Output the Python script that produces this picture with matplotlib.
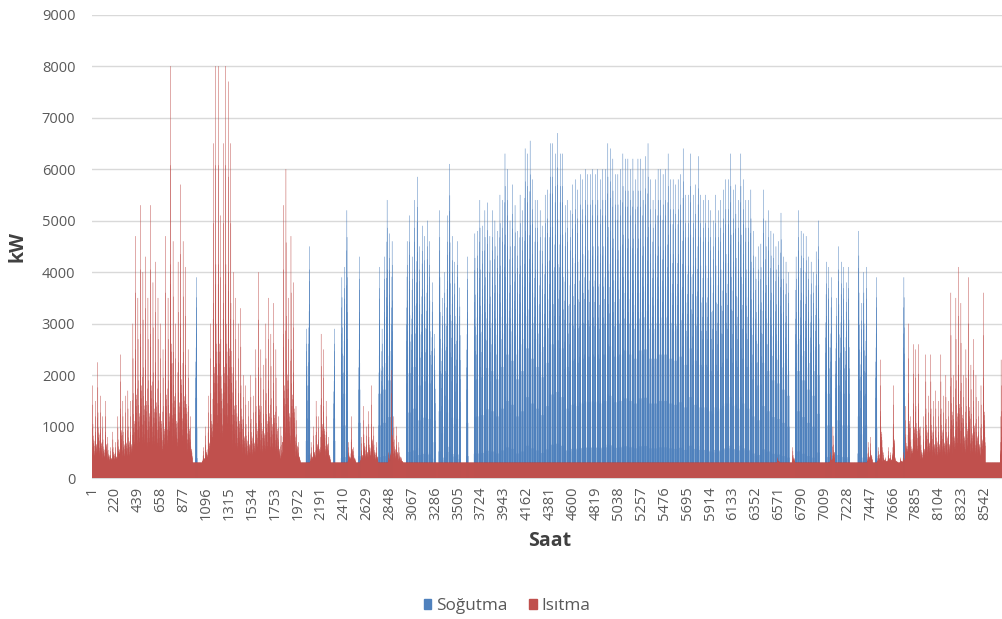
import numpy as np
import matplotlib
matplotlib.use("Agg")
import matplotlib.pyplot as plt
from matplotlib.patches import Patch

plt.rcParams['font.family'] = ['Open Sans', 'DejaVu Sans']

# ---------------- data ----------------
series_names = ["Soğutma", "Isıtma"]
colors = ["#4F81BD", "#C0504D"]

# daily peak heating load (kW), days 1..365
heating_daily_peak = (
    [1800, 1500, 2250, 1600, 1200, 1500, 800, 600, 900, 700,
     1200, 2400, 1500, 1600, 1700, 1500, 3000, 4700, 3500, 5300,
     4000, 4300, 3500, 5300, 3800, 4200, 3500, 3000, 2500, 4700,
     3500, 8000, 4600, 3000, 4200, 5700, 4600, 4100, 2500, 1200,
     300, 300, 300, 300, 600, 1000, 1600, 3000, 6500, 8000,
     8000, 5100, 6500, 8000, 7700, 6500, 4000, 3500, 3000, 3300,
     2000, 1800, 1500, 2000, 1600, 2500, 4000, 2500, 2200, 3000,
     3500, 2800, 3400, 2500, 1200, 1000, 5300, 6000, 3500, 4700,
     3800, 1400, 700, 300, 300, 300, 300, 700, 1000, 1500,
     1200, 2800, 2500, 1500, 800, 300, 300, 300, 300, 300,
     300, 300, 700, 1200, 600, 300, 300, 800, 1400, 1000,
     1300, 1800, 1000, 700, 300, 300, 300, 300, 500, 2100,
     1200, 1000, 700, 400, 300, 300, 300, 300, 300, 300]
    + [300] * 140
    + [300, 300, 300, 400, 300, 300, 300, 300, 300, 600,
       300, 300, 300, 300, 300, 300, 300, 300, 300, 300,
       300, 300, 300, 300, 500, 1000, 300, 300, 300, 300,
       300, 300, 300, 300, 300, 300, 300, 300, 300, 700,
       800, 300, 300, 600, 2300, 500, 400, 600, 500, 1800,
       400, 300, 400, 500, 1400, 3000, 1200, 2600, 2500, 2600,
       1000, 1200, 2400, 1600, 2400, 1500, 1700, 1500, 2400, 1600,
       2000, 1500, 3600, 2000, 3500, 4100, 3400, 2000, 2500, 3900,
       2200, 2700, 2000, 1500, 1800, 3600, 300, 300, 300, 300,
       300, 300, 2300, 1500, 1000]
)

# daily peak cooling load (kW), days 1..365
cooling_daily_peak = (
    [0] * 41 + [3900] + [0] * 43
    + [2900, 4500, 0, 0, 0, 0, 0, 0, 0, 0,
       0, 2900, 0, 0, 3900, 4100, 5200, 0, 0, 0,
       0, 4300, 0, 0, 0, 0, 0, 0, 0, 4100,
       2900, 4300, 5400, 4750, 4600, 0, 0, 0, 0, 0,
       4600, 5100, 4300, 5400, 5850,
       4500, 4900, 4700, 5000, 4600, 3800, 2800, 0, 5200, 3500,
       4000, 5100, 6100, 4700, 4200, 4600, 3700, 0, 0, 4300,
       0, 0, 4750, 4800, 5400, 4900, 5200, 5350, 4700, 5200,
       5000, 4800, 5500, 5400, 6300, 6000, 5000, 5700, 5300, 4800,
       5500, 5200, 6400, 6300, 6550, 5800, 5400, 5400, 5200, 4900,
       5500, 5600, 6500, 6500, 6300, 6700, 6300, 6300, 5300, 5400,
       5200, 5700, 5800, 5600, 5900, 5800, 6000, 5900, 5900, 6000,
       5900, 6000, 5800, 6000, 6000, 6500, 6400, 6200, 5900, 5900,
       6000, 6300, 6200, 6200, 6000, 6200, 5800, 6200, 6200, 6000,
       6250, 6500, 5800, 5400, 5800, 6000, 6000, 5900, 6000, 6300,
       5800, 5800, 5700, 5800, 5900, 6400, 5500, 5500, 6300, 5500,
       5700, 6250, 5500, 5400, 5500, 5400, 5200, 5000, 5500, 5200,
       5400, 5600, 5800, 5800, 6300, 5600, 5700, 5400, 6300, 5800,
       5400, 5400, 5600, 4800, 4300, 4500, 4550, 5600, 5000, 5200,
       4800, 4750, 4500, 4600, 5150, 4300, 4200, 4000, 0, 0,
       4300, 5200, 4800, 4750, 4700, 4300, 4200, 4000, 4400, 5000,
       0, 0, 4200, 4100, 3900, 0, 3500, 4500, 4200, 4100,
       3800, 4100, 0, 0, 0, 4800, 3400, 4000, 4100, 0,
       0, 0, 3900, 0, 0, 0, 0, 0, 0, 0,
       0, 0, 0, 3900]
    + [0] * 41
)

heating_base = 300  # kW, constant minimum heating load
# hourly shape within a day (share of the daily peak)
cooling_hour_share = [0, 0, 0, 0, 0, 0, 0.1, 0.25, 0.4, 0.5, 0.58, 0.65,
                      0.72, 0.85, 1.0, 0.9, 0.75, 0.62, 0.52, 0.4, 0.25, 0.1, 0, 0]
heating_hour_share = [0.08, 0.08, 0.08, 0.1, 0.12, 0.2, 0.45, 1.0, 0.75, 0.5, 0.35, 0.25,
                      0.2, 0.18, 0.15, 0.15, 0.18, 0.25, 0.3, 0.28, 0.22, 0.15, 0.12, 0.1]

tick_hours = list(range(1, 8761, 219))
tick_labels = [str(h) for h in tick_hours]

# ---------------- build hourly series ----------------
cool_peak = np.array(cooling_daily_peak, dtype=float)
heat_peak = np.array(heating_daily_peak, dtype=float)
cooling = (cool_peak[:, None] * np.array(cooling_hour_share)[None, :]).ravel()
heating = (heating_base + (heat_peak[:, None] - heating_base)
           * np.array(heating_hour_share)[None, :]).ravel()
hours = np.arange(1, len(cooling) + 1)

# ---------------- figure ----------------
fig = plt.figure(figsize=(10.03, 6.19), dpi=100)
ax = fig.add_axes([0.0917, 0.2273, 0.9131, 0.7491])

ax.bar(hours, cooling, width=1.0, color=colors[0], edgecolor=colors[0],
       linewidth=0.15, zorder=2, snap=False)
ax.bar(hours, heating, width=1.0, color=colors[1], edgecolor=colors[1],
       linewidth=0.15, zorder=3, snap=False)

ax.set_xlim(0.5, len(hours) + 0.5)
ax.set_ylim(0, 9000)
ax.set_yticks(range(0, 9001, 1000))
ax.set_xticks(tick_hours)
ax.set_xticklabels(tick_labels, rotation=90)
ax.tick_params(axis='both', length=0, labelsize=10.5, labelcolor='#595959')
ax.tick_params(axis='x', pad=6)
ax.tick_params(axis='y', pad=12)
ax.grid(axis='y', color='#D9D9D9', linewidth=1.0, zorder=0)
ax.set_axisbelow(True)
for s in ['top', 'right', 'left']:
    ax.spines[s].set_visible(False)
ax.spines['bottom'].set_color('#D9D9D9')

ax.set_ylabel('kW', fontsize=14, fontweight='bold', color='#404040', labelpad=10)
ax.set_xlabel('Saat', fontsize=14, fontweight='bold', color='#404040', labelpad=8)

handles = [Patch(facecolor=c, edgecolor=c) for c in colors]
fig.legend(handles, series_names, loc='center', bbox_to_anchor=(507 / 1003, 1 - 606 / 619),
           ncol=2, frameon=False, fontsize=12.3, handlelength=0.45, handleheight=0.45,
           handletextpad=0.25, columnspacing=1.3, labelcolor='#595959')

fig.savefig('out.png', dpi=100)
